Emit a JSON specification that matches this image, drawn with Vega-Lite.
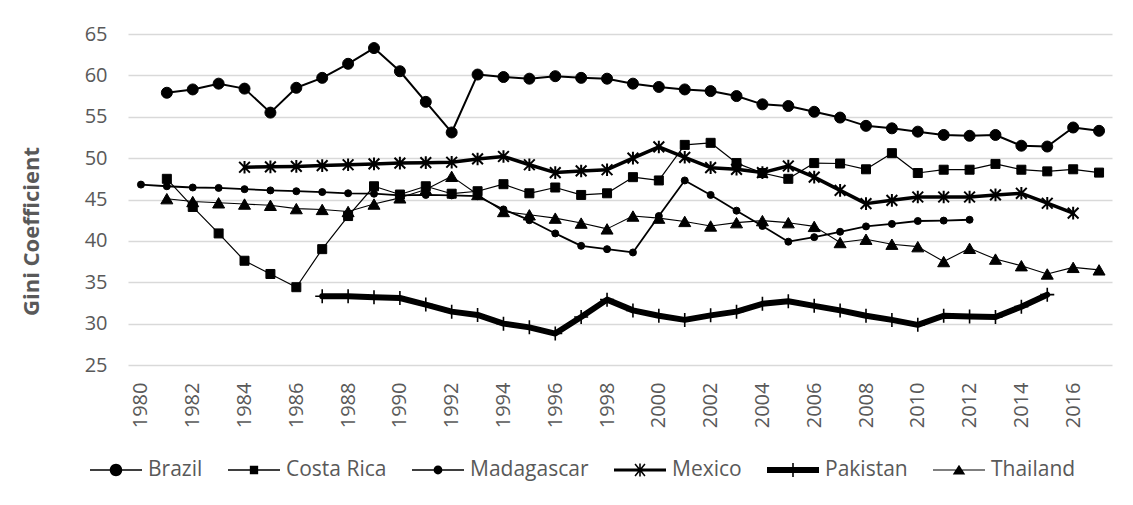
{
  "$schema": "https://vega.github.io/schema/vega-lite/v6.json",
  "width": 984,
  "height": 331,
  "autosize": {"type": "none"},
  "padding": {"left": 128, "top": 34, "right": 21, "bottom": 140},
  "background": "white",
  "config": {
    "view": {"stroke": null},
    "font": "Open Sans",
    "axis": {"labelFont": "Open Sans", "titleFont": "Open Sans", "labelColor": "#595959", "titleColor": "#595959"}
  },
  "data": {
    "values": [
      {"country": "Brazil", "year": 1981, "gini": 57.9},
      {"country": "Brazil", "year": 1982, "gini": 58.3},
      {"country": "Brazil", "year": 1983, "gini": 59.0},
      {"country": "Brazil", "year": 1984, "gini": 58.4},
      {"country": "Brazil", "year": 1985, "gini": 55.5},
      {"country": "Brazil", "year": 1986, "gini": 58.5},
      {"country": "Brazil", "year": 1987, "gini": 59.7},
      {"country": "Brazil", "year": 1988, "gini": 61.4},
      {"country": "Brazil", "year": 1989, "gini": 63.3},
      {"country": "Brazil", "year": 1990, "gini": 60.5},
      {"country": "Brazil", "year": 1991, "gini": 56.8},
      {"country": "Brazil", "year": 1992, "gini": 53.1},
      {"country": "Brazil", "year": 1993, "gini": 60.1},
      {"country": "Brazil", "year": 1994, "gini": 59.8},
      {"country": "Brazil", "year": 1995, "gini": 59.6},
      {"country": "Brazil", "year": 1996, "gini": 59.9},
      {"country": "Brazil", "year": 1997, "gini": 59.7},
      {"country": "Brazil", "year": 1998, "gini": 59.6},
      {"country": "Brazil", "year": 1999, "gini": 59.0},
      {"country": "Brazil", "year": 2000, "gini": 58.6},
      {"country": "Brazil", "year": 2001, "gini": 58.3},
      {"country": "Brazil", "year": 2002, "gini": 58.1},
      {"country": "Brazil", "year": 2003, "gini": 57.5},
      {"country": "Brazil", "year": 2004, "gini": 56.5},
      {"country": "Brazil", "year": 2005, "gini": 56.3},
      {"country": "Brazil", "year": 2006, "gini": 55.6},
      {"country": "Brazil", "year": 2007, "gini": 54.9},
      {"country": "Brazil", "year": 2008, "gini": 53.9},
      {"country": "Brazil", "year": 2009, "gini": 53.6},
      {"country": "Brazil", "year": 2010, "gini": 53.2},
      {"country": "Brazil", "year": 2011, "gini": 52.8},
      {"country": "Brazil", "year": 2012, "gini": 52.7},
      {"country": "Brazil", "year": 2013, "gini": 52.8},
      {"country": "Brazil", "year": 2014, "gini": 51.5},
      {"country": "Brazil", "year": 2015, "gini": 51.4},
      {"country": "Brazil", "year": 2016, "gini": 53.7},
      {"country": "Brazil", "year": 2017, "gini": 53.3},
      {"country": "Costa Rica", "year": 1981, "gini": 47.5},
      {"country": "Costa Rica", "year": 1982, "gini": 44.1},
      {"country": "Costa Rica", "year": 1983, "gini": 40.9},
      {"country": "Costa Rica", "year": 1984, "gini": 37.6},
      {"country": "Costa Rica", "year": 1985, "gini": 36.0},
      {"country": "Costa Rica", "year": 1986, "gini": 34.4},
      {"country": "Costa Rica", "year": 1987, "gini": 39.0},
      {"country": "Costa Rica", "year": 1988, "gini": 43.0},
      {"country": "Costa Rica", "year": 1989, "gini": 46.6},
      {"country": "Costa Rica", "year": 1990, "gini": 45.6},
      {"country": "Costa Rica", "year": 1991, "gini": 46.6},
      {"country": "Costa Rica", "year": 1992, "gini": 45.7},
      {"country": "Costa Rica", "year": 1993, "gini": 46.0},
      {"country": "Costa Rica", "year": 1994, "gini": 46.85},
      {"country": "Costa Rica", "year": 1995, "gini": 45.75},
      {"country": "Costa Rica", "year": 1996, "gini": 46.45},
      {"country": "Costa Rica", "year": 1997, "gini": 45.55},
      {"country": "Costa Rica", "year": 1998, "gini": 45.75},
      {"country": "Costa Rica", "year": 1999, "gini": 47.7},
      {"country": "Costa Rica", "year": 2000, "gini": 47.3},
      {"country": "Costa Rica", "year": 2001, "gini": 51.6},
      {"country": "Costa Rica", "year": 2002, "gini": 51.85},
      {"country": "Costa Rica", "year": 2003, "gini": 49.4},
      {"country": "Costa Rica", "year": 2004, "gini": 48.2},
      {"country": "Costa Rica", "year": 2005, "gini": 47.5},
      {"country": "Costa Rica", "year": 2006, "gini": 49.4},
      {"country": "Costa Rica", "year": 2007, "gini": 49.35},
      {"country": "Costa Rica", "year": 2008, "gini": 48.65},
      {"country": "Costa Rica", "year": 2009, "gini": 50.6},
      {"country": "Costa Rica", "year": 2010, "gini": 48.2},
      {"country": "Costa Rica", "year": 2011, "gini": 48.6},
      {"country": "Costa Rica", "year": 2012, "gini": 48.6},
      {"country": "Costa Rica", "year": 2013, "gini": 49.3},
      {"country": "Costa Rica", "year": 2014, "gini": 48.6},
      {"country": "Costa Rica", "year": 2015, "gini": 48.4},
      {"country": "Costa Rica", "year": 2016, "gini": 48.65},
      {"country": "Costa Rica", "year": 2017, "gini": 48.25},
      {"country": "Madagascar", "year": 1980, "gini": 46.8},
      {"country": "Madagascar", "year": 1981, "gini": 46.6},
      {"country": "Madagascar", "year": 1982, "gini": 46.45},
      {"country": "Madagascar", "year": 1983, "gini": 46.4},
      {"country": "Madagascar", "year": 1984, "gini": 46.25},
      {"country": "Madagascar", "year": 1985, "gini": 46.1},
      {"country": "Madagascar", "year": 1986, "gini": 46.0},
      {"country": "Madagascar", "year": 1987, "gini": 45.9},
      {"country": "Madagascar", "year": 1988, "gini": 45.75},
      {"country": "Madagascar", "year": 1989, "gini": 45.7},
      {"country": "Madagascar", "year": 1990, "gini": 45.5},
      {"country": "Madagascar", "year": 1991, "gini": 45.55},
      {"country": "Madagascar", "year": 1992, "gini": 45.5},
      {"country": "Madagascar", "year": 1993, "gini": 45.4},
      {"country": "Madagascar", "year": 1994, "gini": 43.8},
      {"country": "Madagascar", "year": 1995, "gini": 42.5},
      {"country": "Madagascar", "year": 1996, "gini": 40.9},
      {"country": "Madagascar", "year": 1997, "gini": 39.4},
      {"country": "Madagascar", "year": 1998, "gini": 39.0},
      {"country": "Madagascar", "year": 1999, "gini": 38.6},
      {"country": "Madagascar", "year": 2000, "gini": 43.0},
      {"country": "Madagascar", "year": 2001, "gini": 47.3},
      {"country": "Madagascar", "year": 2002, "gini": 45.55},
      {"country": "Madagascar", "year": 2003, "gini": 43.65},
      {"country": "Madagascar", "year": 2004, "gini": 41.8},
      {"country": "Madagascar", "year": 2005, "gini": 39.9},
      {"country": "Madagascar", "year": 2006, "gini": 40.45},
      {"country": "Madagascar", "year": 2007, "gini": 41.1},
      {"country": "Madagascar", "year": 2008, "gini": 41.75},
      {"country": "Madagascar", "year": 2009, "gini": 42.05},
      {"country": "Madagascar", "year": 2010, "gini": 42.4},
      {"country": "Madagascar", "year": 2011, "gini": 42.45},
      {"country": "Madagascar", "year": 2012, "gini": 42.55},
      {"country": "Mexico", "year": 1984, "gini": 48.9},
      {"country": "Mexico", "year": 1985, "gini": 48.95},
      {"country": "Mexico", "year": 1986, "gini": 49.0},
      {"country": "Mexico", "year": 1987, "gini": 49.1},
      {"country": "Mexico", "year": 1988, "gini": 49.2},
      {"country": "Mexico", "year": 1989, "gini": 49.3},
      {"country": "Mexico", "year": 1990, "gini": 49.4},
      {"country": "Mexico", "year": 1991, "gini": 49.45},
      {"country": "Mexico", "year": 1992, "gini": 49.5},
      {"country": "Mexico", "year": 1993, "gini": 49.9},
      {"country": "Mexico", "year": 1994, "gini": 50.2},
      {"country": "Mexico", "year": 1995, "gini": 49.2},
      {"country": "Mexico", "year": 1996, "gini": 48.25},
      {"country": "Mexico", "year": 1997, "gini": 48.45},
      {"country": "Mexico", "year": 1998, "gini": 48.6},
      {"country": "Mexico", "year": 1999, "gini": 50.0},
      {"country": "Mexico", "year": 2000, "gini": 51.35},
      {"country": "Mexico", "year": 2001, "gini": 50.1},
      {"country": "Mexico", "year": 2002, "gini": 48.85},
      {"country": "Mexico", "year": 2003, "gini": 48.65},
      {"country": "Mexico", "year": 2004, "gini": 48.25},
      {"country": "Mexico", "year": 2005, "gini": 49.05},
      {"country": "Mexico", "year": 2006, "gini": 47.7},
      {"country": "Mexico", "year": 2007, "gini": 46.1},
      {"country": "Mexico", "year": 2008, "gini": 44.5},
      {"country": "Mexico", "year": 2009, "gini": 44.9},
      {"country": "Mexico", "year": 2010, "gini": 45.3},
      {"country": "Mexico", "year": 2011, "gini": 45.3},
      {"country": "Mexico", "year": 2012, "gini": 45.3},
      {"country": "Mexico", "year": 2013, "gini": 45.55},
      {"country": "Mexico", "year": 2014, "gini": 45.75},
      {"country": "Mexico", "year": 2015, "gini": 44.55},
      {"country": "Mexico", "year": 2016, "gini": 43.35},
      {"country": "Pakistan", "year": 1987, "gini": 33.3},
      {"country": "Pakistan", "year": 1988, "gini": 33.3},
      {"country": "Pakistan", "year": 1989, "gini": 33.2},
      {"country": "Pakistan", "year": 1990, "gini": 33.1},
      {"country": "Pakistan", "year": 1991, "gini": 32.3},
      {"country": "Pakistan", "year": 1992, "gini": 31.45},
      {"country": "Pakistan", "year": 1993, "gini": 31.05},
      {"country": "Pakistan", "year": 1994, "gini": 30.0},
      {"country": "Pakistan", "year": 1995, "gini": 29.55},
      {"country": "Pakistan", "year": 1996, "gini": 28.8},
      {"country": "Pakistan", "year": 1997, "gini": 30.8},
      {"country": "Pakistan", "year": 1998, "gini": 32.9},
      {"country": "Pakistan", "year": 1999, "gini": 31.6},
      {"country": "Pakistan", "year": 2000, "gini": 30.95},
      {"country": "Pakistan", "year": 2001, "gini": 30.45},
      {"country": "Pakistan", "year": 2002, "gini": 31.0},
      {"country": "Pakistan", "year": 2003, "gini": 31.45},
      {"country": "Pakistan", "year": 2004, "gini": 32.4},
      {"country": "Pakistan", "year": 2005, "gini": 32.7},
      {"country": "Pakistan", "year": 2006, "gini": 32.15},
      {"country": "Pakistan", "year": 2007, "gini": 31.6},
      {"country": "Pakistan", "year": 2008, "gini": 30.95},
      {"country": "Pakistan", "year": 2009, "gini": 30.45},
      {"country": "Pakistan", "year": 2010, "gini": 29.85},
      {"country": "Pakistan", "year": 2011, "gini": 30.95},
      {"country": "Pakistan", "year": 2012, "gini": 30.85},
      {"country": "Pakistan", "year": 2013, "gini": 30.8},
      {"country": "Pakistan", "year": 2014, "gini": 32.05},
      {"country": "Pakistan", "year": 2015, "gini": 33.5},
      {"country": "Thailand", "year": 1981, "gini": 45.1},
      {"country": "Thailand", "year": 1982, "gini": 44.75},
      {"country": "Thailand", "year": 1983, "gini": 44.6},
      {"country": "Thailand", "year": 1984, "gini": 44.45},
      {"country": "Thailand", "year": 1985, "gini": 44.3},
      {"country": "Thailand", "year": 1986, "gini": 43.9},
      {"country": "Thailand", "year": 1987, "gini": 43.8},
      {"country": "Thailand", "year": 1988, "gini": 43.55},
      {"country": "Thailand", "year": 1989, "gini": 44.45},
      {"country": "Thailand", "year": 1990, "gini": 45.2},
      {"country": "Thailand", "year": 1991, "gini": 46.2},
      {"country": "Thailand", "year": 1992, "gini": 47.8},
      {"country": "Thailand", "year": 1993, "gini": 45.6},
      {"country": "Thailand", "year": 1994, "gini": 43.55},
      {"country": "Thailand", "year": 1995, "gini": 43.15},
      {"country": "Thailand", "year": 1996, "gini": 42.75},
      {"country": "Thailand", "year": 1997, "gini": 42.15},
      {"country": "Thailand", "year": 1998, "gini": 41.45},
      {"country": "Thailand", "year": 1999, "gini": 43.0},
      {"country": "Thailand", "year": 2000, "gini": 42.75},
      {"country": "Thailand", "year": 2001, "gini": 42.35},
      {"country": "Thailand", "year": 2002, "gini": 41.8},
      {"country": "Thailand", "year": 2003, "gini": 42.2},
      {"country": "Thailand", "year": 2004, "gini": 42.45},
      {"country": "Thailand", "year": 2005, "gini": 42.2},
      {"country": "Thailand", "year": 2006, "gini": 41.75},
      {"country": "Thailand", "year": 2007, "gini": 39.8},
      {"country": "Thailand", "year": 2008, "gini": 40.2},
      {"country": "Thailand", "year": 2009, "gini": 39.6},
      {"country": "Thailand", "year": 2010, "gini": 39.3},
      {"country": "Thailand", "year": 2011, "gini": 37.5},
      {"country": "Thailand", "year": 2012, "gini": 39.1},
      {"country": "Thailand", "year": 2013, "gini": 37.8},
      {"country": "Thailand", "year": 2014, "gini": 37.0},
      {"country": "Thailand", "year": 2015, "gini": 36.0},
      {"country": "Thailand", "year": 2016, "gini": 36.8},
      {"country": "Thailand", "year": 2017, "gini": 36.5}
    ]
  },
  "encoding": {
    "x": {
      "field": "year", "type": "quantitative",
      "scale": {"domain": [1979.5, 2017.5], "nice": false, "zero": false},
      "axis": {
        "title": null, "values": [1980, 1982, 1984, 1986, 1988, 1990, 1992, 1994, 1996, 1998, 2000, 2002, 2004, 2006, 2008, 2010, 2012, 2014, 2016],
        "format": "d", "labelAngle": -90, "labelFontSize": 20, "labelPadding": 17,
        "domain": false, "ticks": false, "grid": false, "labelFlush": false, "labelOverlap": false
      }
    },
    "y": {
      "field": "gini", "type": "quantitative",
      "scale": {"domain": [25, 65], "nice": false, "zero": false},
      "axis": {
        "title": "Gini Coefficient", "values": [25, 30, 35, 40, 45, 50, 55, 60, 65],
        "labelFontSize": 20, "labelPadding": 21, "domain": false, "ticks": false,
        "grid": true, "gridColor": "#d9d9d9", "gridWidth": 1.3,
        "titleFontSize": 22, "titleFontWeight": "bold", "titleAngle": 270,
        "titleX": -97, "titleY": 197, "titleAlign": "center", "titleBaseline": "middle"
      }
    }
  },
  "layer": [
    {
      "mark": {"type": "line", "color": "black", "strokeJoin": "round", "strokeCap": "round"},
      "encoding": {
        "detail": {"field": "country", "type": "nominal"},
        "strokeWidth": {
          "field": "country", "type": "nominal",
          "scale": {"type": "ordinal", "domain": ["Brazil", "Costa Rica", "Madagascar", "Mexico", "Pakistan", "Thailand"], "range": [2, 1.2, 1.8, 3.5, 6, 1.1]},
          "legend": null
        }
      }
    },
    {
      "mark": {"type": "point", "filled": true, "color": "black", "stroke": "black", "opacity": 1},
      "encoding": {
        "shape": {
          "field": "country", "type": "nominal",
          "scale": {"domain": ["Brazil", "Costa Rica", "Madagascar", "Mexico", "Pakistan", "Thailand"],
            "range": ["circle", "square", "circle", "M-0.85,-0.85L0.85,0.85M-0.85,0.85L0.85,-0.85M0,-1V1", "M0,-1V1M-1,0H1", "triangle-up"]},
          "legend": null
        },
        "size": {
          "field": "country", "type": "nominal",
          "scale": {"type": "ordinal", "domain": ["Brazil", "Costa Rica", "Madagascar", "Mexico", "Pakistan", "Thailand"], "range": [121, 81, 49, 160, 196, 144]},
          "legend": null
        },
        "strokeWidth": {
          "field": "country", "type": "nominal",
          "scale": {"type": "ordinal", "domain": ["Brazil", "Costa Rica", "Madagascar", "Mexico", "Pakistan", "Thailand"], "range": [1, 1, 1, 2, 1.6, 1]},
          "legend": null
        }
      }
    },
    {
      "mark": {"type": "point", "filled": true, "color": "black", "opacity": 0},
      "encoding": {
        "shape": {
          "field": "country", "type": "nominal",
          "scale": {"domain": ["Brazil", "Costa Rica", "Madagascar", "Mexico", "Pakistan", "Thailand"],
            "range": [
              "M-1,-0.03H1V0.03H-1ZM0.24,0A0.24,0.24,0,1,1,-0.24,0A0.24,0.24,0,1,1,0.24,0Z",
              "M-1,-0.025H1V0.025H-1ZM-0.16,-0.16H0.16V0.16H-0.16Z",
              "M-1,-0.03H1V0.03H-1ZM0.17,0A0.17,0.17,0,1,1,-0.17,0A0.17,0.17,0,1,1,0.17,0Z",
              "M-1,-0.06H1V0.06H-1ZM-0.03,-0.25H0.03V0.25H-0.03ZM-0.167,-0.249L0.213,0.211L0.167,0.249L-0.213,-0.211ZM-0.213,0.211L0.167,-0.249L0.213,-0.211L-0.167,0.249Z",
              "M-1,-0.115H1V0.115H-1ZM-0.03,-0.27H0.03V0.27H-0.03Z",
              "M-1,-0.02H1V0.02H-1ZM0,-0.2L0.24,0.17L-0.24,0.17Z"
            ]},
          "legend": {
            "title": null, "orient": "none", "direction": "horizontal",
            "legendX": -38, "legendY": 410, "padding": 0,
            "symbolSize": 2704, "labelFont": "Open Sans", "labelFontSize": 21, "labelColor": "#595959",
            "labelOffset": 6, "columnPadding": 25,
            "symbolFillColor": "black", "symbolStrokeColor": "black", "symbolStrokeWidth": 0, "symbolOpacity": 1,
            "encode": {"symbols": {"update": {"fill": {"value": "black"}, "opacity": {"value": 1}, "fillOpacity": {"value": 1}}}}
          }
        }
      }
    }
  ],
  "resolve": {
    "scale": {"shape": "independent", "size": "independent", "strokeWidth": "independent"},
    "legend": {"shape": "independent"}
  }
}
